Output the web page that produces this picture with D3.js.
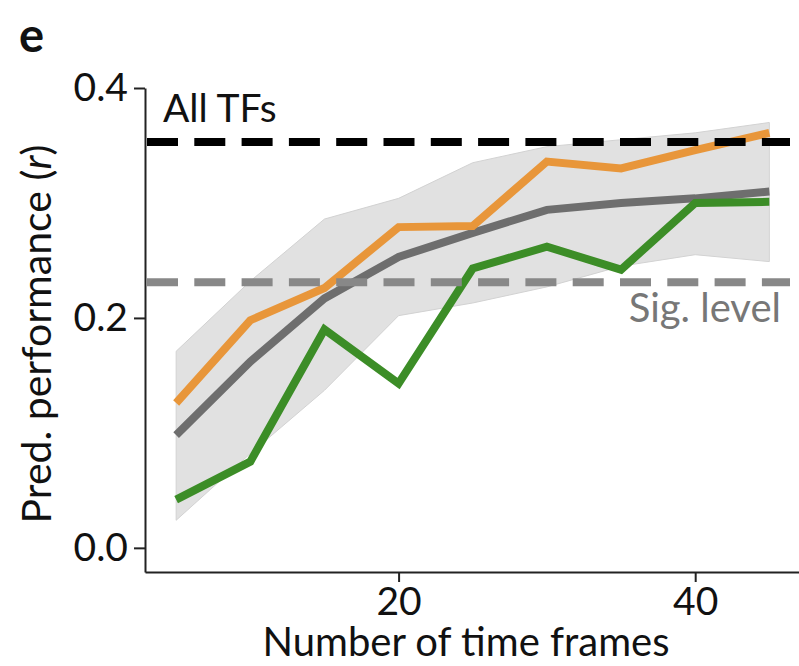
<!DOCTYPE html>
<html>
<head>
<meta charset="utf-8">
<script src="https://cdn.jsdelivr.net/npm/d3@7"></script>
<style>
  html, body { margin: 0; padding: 0; background: #fff; }
  svg { display: block; }
  text { font-family: Lato, "Open Sans", sans-serif; }
</style>
</head>
<body>
<svg id="chart" width="799" height="666"></svg>
<script>
// ---- data ----
const frames      = [5, 10, 15, 20, 25, 30, 35, 40, 45];
const orangeVals  = [0.126, 0.198, 0.226, 0.279, 0.280, 0.336, 0.330, 0.346, 0.361];
const meanVals    = [0.098, 0.162, 0.217, 0.253, 0.274, 0.294, 0.300, 0.304, 0.310];
const greenVals   = [0.042, 0.075, 0.190, 0.143, 0.243, 0.262, 0.242, 0.300, 0.301];
const bandUpper   = [0.171, 0.232, 0.286, 0.304, 0.335, 0.349, 0.355, 0.361, 0.370];
const bandLower   = [0.024, 0.082, 0.137, 0.202, 0.213, 0.227, 0.245, 0.255, 0.249];
const allTFsLevel = 0.353;
const sigLevel    = 0.231;
const yTicks      = [0.0, 0.2, 0.4];
const xTicks      = [20, 40];

const svg = d3.select("#chart");

const x = d3.scaleLinear().domain([2.9, 47.0]).range([145, 799]);
const y = d3.scaleLinear().domain([-0.021, 0.4]).range([572, 88]);

// band
const bandData = frames.map((f, i) => ({f, lo: bandLower[i], hi: bandUpper[i]}));
svg.append("path")
  .datum(bandData)
  .attr("d", d3.area().x(d => x(d.f)).y0(d => y(d.lo)).y1(d => y(d.hi)))
  .attr("fill", "#e1e1e1")
  .attr("stroke", "#d2d2d2")
  .attr("stroke-width", 1);

// lines
const line = d3.line().x(d => x(d[0])).y(d => y(d[1]));
const series = [
  {vals: meanVals,   color: "#6e6e6e"},
  {vals: greenVals,  color: "#3c8d27"},
  {vals: orangeVals, color: "#e8963a"}
];
series.forEach(s => {
  svg.append("path")
    .datum(frames.map((f, i) => [f, s.vals[i]]))
    .attr("d", line)
    .attr("fill", "none")
    .attr("stroke", s.color)
    .attr("stroke-width", 8)
    .attr("stroke-linejoin", "miter")
    .attr("stroke-linecap", "butt");
});

// reference dashed lines
svg.append("line")
  .attr("x1", 147).attr("x2", 790)
  .attr("y1", y(allTFsLevel)).attr("y2", y(allTFsLevel))
  .attr("stroke", "#000").attr("stroke-width", 8)
  .attr("stroke-dasharray", "31,16.3");
svg.append("line")
  .attr("x1", 147).attr("x2", 790)
  .attr("y1", y(sigLevel)).attr("y2", y(sigLevel))
  .attr("stroke", "#888888").attr("stroke-width", 8)
  .attr("stroke-dasharray", "31,16.3");

// axes
const yAxis = svg.append("g")
  .attr("transform", "translate(145,0)")
  .call(d3.axisLeft(y).tickValues(yTicks).tickFormat(d3.format(".1f")).tickSize(11).tickPadding(6).tickSizeOuter(0));
const xAxis = svg.append("g")
  .attr("transform", "translate(0,572)")
  .call(d3.axisBottom(x).tickValues(xTicks).tickSize(10).tickPadding(5).tickSizeOuter(0));
[yAxis, xAxis].forEach(a => {
  a.select(".domain").attr("stroke", "#222").attr("stroke-width", 2);
  a.selectAll(".tick line").attr("stroke", "#222").attr("stroke-width", 2);
  a.selectAll(".tick text").attr("fill", "#111").style("font-size", "39px").style("font-family", "Lato, 'Open Sans', sans-serif");
});

// labels
svg.append("text")
  .attr("x", 163).attr("y", 122)
  .style("font-size", "39px").attr("fill", "#111")
  .text("All TFs");
svg.append("text")
  .attr("x", 781).attr("y", 322)
  .attr("text-anchor", "end")
  .style("font-size", "40px").attr("fill", "#777")
  .text("Sig. level");

svg.append("text")
  .attr("x", 466).attr("y", 656)
  .attr("text-anchor", "middle")
  .style("font-size", "40px").attr("fill", "#111")
  .text("Number of time frames");

const yt = svg.append("text")
  .attr("transform", "translate(51,334) rotate(-90)")
  .attr("text-anchor", "middle")
  .style("font-size", "41px").attr("fill", "#111");
yt.append("tspan").text("Pred. performance (");
yt.append("tspan").style("font-style", "italic").text("r");
yt.append("tspan").text(")");

svg.append("text")
  .attr("x", 19).attr("y", 52)
  .style("font-size", "47px").style("font-weight", "bold").attr("fill", "#111")
  .text("e");
</script>
</body>
</html>
